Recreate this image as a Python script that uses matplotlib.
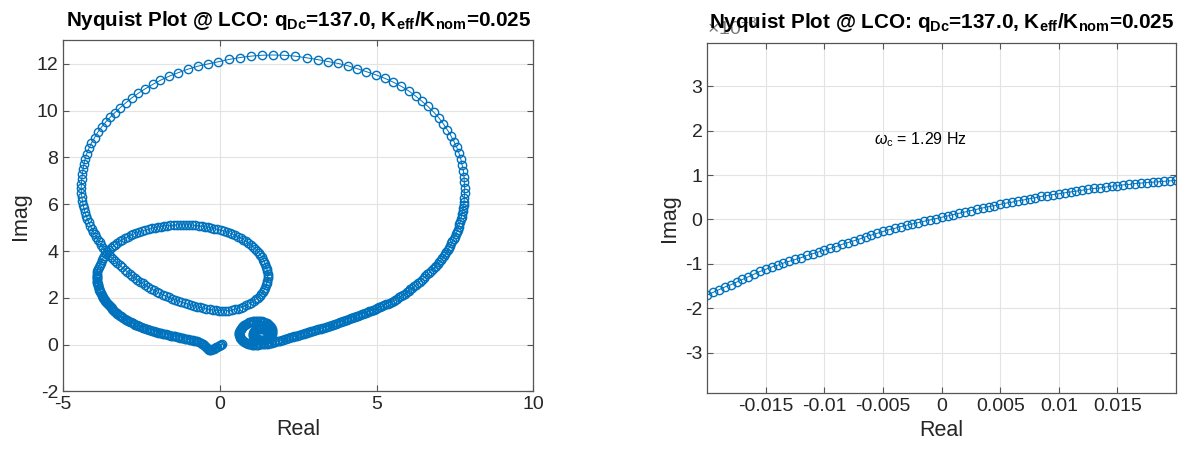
import numpy as np
import matplotlib
matplotlib.use('Agg')
import matplotlib.pyplot as plt
from matplotlib.ticker import FuncFormatter

plt.rcParams['font.family'] = ['Liberation Sans', 'DejaVu Sans']
plt.rcParams['mathtext.fontset'] = 'custom'
plt.rcParams['mathtext.rm'] = 'Liberation Sans'
plt.rcParams['mathtext.it'] = 'Liberation Sans:italic'
plt.rcParams['mathtext.bf'] = 'Liberation Sans:bold'
plt.rcParams['axes.unicode_minus'] = False

# --- full Nyquist curve, in path order ---
tail = [(0.08, 0.03), (0.04, 0.00), (0.00, -0.03), (-0.04, -0.06), (-0.08, -0.09), (-0.12, -0.12),
        (-0.16, -0.15), (-0.20, -0.18), (-0.24, -0.20), (-0.28, -0.22), (-0.32, -0.23), (-0.36, -0.22),
        (-0.39, -0.19), (-0.42, -0.15), (-0.45, -0.11), (-0.48, -0.07), (-0.51, -0.03), (-0.54, 0.01),
        (-0.58, 0.05), (-0.62, 0.09), (-0.67, 0.12)]

lower_band = [(-0.72, 0.14), (-0.77, 0.15), (-0.82, 0.17), (-0.87, 0.18), (-0.92, 0.20), (-0.97, 0.21),
              (-1.02, 0.23), (-1.07, 0.24), (-1.12, 0.26), (-1.17, 0.27), (-1.22, 0.29), (-1.27, 0.30),
              (-1.32, 0.32), (-1.37, 0.33), (-1.42, 0.35), (-1.47, 0.36), (-1.52, 0.38), (-1.57, 0.39),
              (-1.62, 0.41), (-1.67, 0.42), (-1.72, 0.44), (-1.77, 0.45), (-1.82, 0.47), (-1.87, 0.49),
              (-1.92, 0.50), (-1.97, 0.52), (-2.02, 0.54), (-2.07, 0.56), (-2.12, 0.58), (-2.17, 0.60),
              (-2.22, 0.62), (-2.27, 0.64), (-2.32, 0.66), (-2.37, 0.68), (-2.42, 0.71), (-2.47, 0.73),
              (-2.52, 0.76), (-2.57, 0.78), (-2.61, 0.81), (-2.66, 0.83), (-2.70, 0.86), (-2.75, 0.89),
              (-2.79, 0.92), (-2.84, 0.95), (-2.88, 0.98), (-2.92, 1.01), (-2.96, 1.04), (-3.00, 1.07),
              (-3.04, 1.10), (-3.08, 1.14), (-3.12, 1.17), (-3.16, 1.21), (-3.20, 1.24), (-3.23, 1.28),
              (-3.27, 1.32), (-3.30, 1.36), (-3.34, 1.40), (-3.37, 1.44), (-3.40, 1.48), (-3.43, 1.52),
              (-3.46, 1.56), (-3.49, 1.60), (-3.52, 1.64), (-3.55, 1.68), (-3.58, 1.73), (-3.61, 1.77),
              (-3.63, 1.81), (-3.66, 1.86), (-3.68, 1.90), (-3.70, 1.95), (-3.72, 2.00), (-3.74, 2.04),
              (-3.76, 2.09), (-3.78, 2.14), (-3.80, 2.19), (-3.82, 2.24), (-3.83, 2.29), (-3.85, 2.34),
              (-3.86, 2.39), (-3.87, 2.44), (-3.88, 2.49), (-3.89, 2.54), (-3.90, 2.59), (-3.91, 2.64),
              (-3.92, 2.69), (-3.92, 2.74), (-3.93, 2.79), (-3.93, 2.84), (-3.93, 2.89), (-3.93, 2.94),
              (-3.93, 2.99)]

inner_loop = [(-3.92, 3.06), (-3.91, 3.15), (-3.89, 3.24), (-3.87, 3.33), (-3.84, 3.42), (-3.81, 3.51),
              (-3.78, 3.60), (-3.74, 3.69), (-3.70, 3.78), (-3.65, 3.87), (-3.60, 3.96), (-3.54, 4.04),
              (-3.48, 4.12), (-3.41, 4.20), (-3.34, 4.28), (-3.27, 4.35), (-3.19, 4.42), (-3.11, 4.49),
              (-3.03, 4.55), (-2.94, 4.61), (-2.85, 4.67), (-2.76, 4.72), (-2.67, 4.77), (-2.58, 4.82),
              (-2.48, 4.86), (-2.38, 4.90), (-2.28, 4.94), (-2.18, 4.97), (-2.08, 5.00), (-1.98, 5.03),
              (-1.88, 5.05), (-1.78, 5.07), (-1.68, 5.09), (-1.58, 5.10), (-1.48, 5.11), (-1.38, 5.12),
              (-1.28, 5.12), (-1.18, 5.12), (-1.08, 5.12), (-0.98, 5.12), (-0.88, 5.11), (-0.78, 5.10),
              (-0.68, 5.08), (-0.58, 5.06), (-0.48, 5.04), (-0.38, 5.02), (-0.28, 4.99), (-0.18, 4.96),
              (-0.08, 4.93), (0.02, 4.90), (0.12, 4.86), (0.22, 4.82), (0.31, 4.77), (0.40, 4.72),
              (0.49, 4.67), (0.58, 4.61), (0.67, 4.55), (0.75, 4.49), (0.83, 4.42), (0.91, 4.35),
              (0.98, 4.27), (1.05, 4.19), (1.12, 4.11), (1.18, 4.02), (1.24, 3.93), (1.29, 3.84),
              (1.34, 3.74), (1.38, 3.64), (1.42, 3.54), (1.45, 3.44), (1.48, 3.34), (1.50, 3.24),
              (1.51, 3.14), (1.52, 3.04), (1.52, 2.94), (1.52, 2.84), (1.51, 2.74), (1.49, 2.64),
              (1.47, 2.54), (1.44, 2.44), (1.41, 2.35), (1.37, 2.26), (1.32, 2.17), (1.27, 2.09),
              (1.21, 2.01), (1.15, 1.94), (1.08, 1.87), (1.00, 1.80), (0.92, 1.74), (0.84, 1.68),
              (0.75, 1.63), (0.66, 1.58), (0.57, 1.54), (0.47, 1.51), (0.37, 1.48), (0.27, 1.46),
              (0.17, 1.45), (0.07, 1.45), (-0.03, 1.46), (-0.13, 1.47), (-0.23, 1.49), (-0.33, 1.51),
              (-0.43, 1.53), (-0.53, 1.56), (-0.63, 1.59), (-0.73, 1.62), (-0.83, 1.66), (-0.93, 1.70),
              (-1.03, 1.74), (-1.13, 1.78), (-1.23, 1.82), (-1.33, 1.87), (-1.43, 1.92), (-1.53, 1.97),
              (-1.63, 2.02), (-1.73, 2.08), (-1.83, 2.14), (-1.93, 2.20), (-2.02, 2.26), (-2.11, 2.33),
              (-2.20, 2.40), (-2.29, 2.47), (-2.38, 2.54), (-2.47, 2.62), (-2.56, 2.70), (-2.64, 2.78),
              (-2.72, 2.86), (-2.80, 2.94), (-2.88, 3.03), (-2.96, 3.12), (-3.04, 3.21), (-3.12, 3.30),
              (-3.20, 3.39), (-3.27, 3.48), (-3.34, 3.57), (-3.41, 3.66), (-3.48, 3.75), (-3.55, 3.85),
              (-3.61, 3.95), (-3.67, 4.05), (-3.73, 4.15), (-3.79, 4.26), (-3.84, 4.37), (-3.89, 4.48),
              (-3.94, 4.59), (-3.99, 4.71), (-4.04, 4.83), (-4.09, 4.96), (-4.14, 5.09), (-4.19, 5.23),
              (-4.23, 5.37), (-4.27, 5.52), (-4.31, 5.67), (-4.34, 5.83), (-4.37, 5.99), (-4.39, 6.16),
              (-4.41, 6.33), (-4.42, 6.50), (-4.43, 6.68)]

big_arc = [(-4.42, 6.88), (-4.41, 7.08), (-4.39, 7.29), (-4.37, 7.50), (-4.34, 7.72), (-4.30, 7.94),
           (-4.25, 8.16), (-4.18, 8.39), (-4.10, 8.62), (-4.00, 8.85), (-3.90, 9.08), (-3.78, 9.30),
           (-3.65, 9.51), (-3.51, 9.71), (-3.35, 9.92), (-3.19, 10.12), (-3.01, 10.33), (-2.82, 10.54),
           (-2.60, 10.75), (-2.38, 10.94), (-2.15, 11.12), (-1.90, 11.30), (-1.63, 11.47), (-1.34, 11.62),
           (-1.03, 11.77), (-0.71, 11.90), (-0.38, 12.00), (-0.05, 12.09), (0.29, 12.19), (0.63, 12.27),
           (0.98, 12.33), (1.33, 12.37), (1.68, 12.38), (2.04, 12.37), (2.41, 12.33), (2.77, 12.26),
           (3.13, 12.18), (3.45, 12.10), (3.77, 12.02), (4.08, 11.92), (4.37, 11.80), (4.67, 11.67),
           (4.98, 11.53), (5.27, 11.38), (5.53, 11.22), (5.79, 11.04), (6.03, 10.84), (6.25, 10.62),
           (6.45, 10.40), (6.64, 10.18), (6.82, 9.94), (6.99, 9.69), (7.13, 9.44), (7.26, 9.18),
           (7.37, 8.93), (7.47, 8.68), (7.56, 8.43), (7.63, 8.18), (7.69, 7.93), (7.73, 7.68),
           (7.77, 7.43), (7.79, 7.18)]

right_side = [(7.80, 6.94), (7.81, 6.71), (7.81, 6.49), (7.80, 6.28), (7.79, 6.08), (7.78, 5.95),
              (7.77, 5.83), (7.75, 5.71), (7.73, 5.59), (7.71, 5.47), (7.69, 5.36), (7.67, 5.25),
              (7.64, 5.14), (7.62, 5.03), (7.59, 4.92), (7.56, 4.82), (7.53, 4.72), (7.49, 4.62),
              (7.46, 4.52), (7.42, 4.42), (7.39, 4.33), (7.35, 4.23), (7.31, 4.14), (7.27, 4.05),
              (7.23, 3.96), (7.19, 3.87), (7.14, 3.79), (7.10, 3.70), (7.05, 3.62), (7.00, 3.54),
              (6.95, 3.46), (6.90, 3.38), (6.85, 3.30), (6.79, 3.22), (6.74, 3.15), (6.68, 3.07),
              (6.62, 3.00), (6.56, 2.92), (6.50, 2.85), (6.44, 2.77), (6.38, 2.70), (6.32, 2.63),
              (6.26, 2.56), (6.20, 2.49), (6.14, 2.43), (6.08, 2.36), (6.02, 2.30), (5.96, 2.24),
              (5.90, 2.18), (5.84, 2.12), (5.78, 2.07), (5.72, 2.02), (5.66, 1.97), (5.60, 1.92),
              (5.54, 1.88), (5.48, 1.84), (5.42, 1.80), (5.36, 1.76), (5.30, 1.72), (5.24, 1.69),
              (5.18, 1.65), (5.12, 1.62), (5.07, 1.59),
              (5.02, 1.56), (4.97, 1.53), (4.92, 1.50), (4.87, 1.48), (4.82, 1.45), (4.77, 1.42),
              (4.72, 1.40), (4.67, 1.37), (4.62, 1.34), (4.57, 1.32), (4.52, 1.29), (4.47, 1.27),
              (4.42, 1.24), (4.37, 1.22), (4.32, 1.19), (4.27, 1.17), (4.22, 1.14), (4.17, 1.12),
              (4.12, 1.09), (4.07, 1.07), (4.02, 1.05), (3.97, 1.02), (3.92, 1.00), (3.87, 0.97),
              (3.82, 0.95), (3.77, 0.92), (3.72, 0.90), (3.67, 0.88), (3.62, 0.85), (3.57, 0.83),
              (3.52, 0.81), (3.47, 0.79), (3.42, 0.77), (3.37, 0.75), (3.32, 0.73), (3.27, 0.71),
              (3.22, 0.69), (3.17, 0.67), (3.12, 0.65), (3.07, 0.63), (3.02, 0.61), (2.97, 0.59),
              (2.92, 0.57), (2.87, 0.55), (2.82, 0.53), (2.77, 0.51), (2.72, 0.49), (2.67, 0.47),
              (2.62, 0.45), (2.57, 0.43), (2.52, 0.41), (2.47, 0.39), (2.42, 0.37), (2.37, 0.35),
              (2.32, 0.33), (2.27, 0.31), (2.22, 0.29), (2.17, 0.27), (2.12, 0.25), (2.07, 0.23),
              (2.02, 0.21), (1.97, 0.19), (1.92, 0.17), (1.87, 0.16), (1.82, 0.14), (1.77, 0.12),
              (1.72, 0.11), (1.67, 0.09)]

small_loop = [(1.62, 0.075), (1.57, 0.06), (1.52, 0.05), (1.47, 0.04), (1.42, 0.03), (1.37, 0.02),
              (1.32, 0.015), (1.27, 0.01), (1.22, 0.005), (1.17, 0.00), (1.12, 0.00), (1.07, 0.00),
              (1.02, 0.005), (0.98, 0.01), (0.94, 0.025), (0.90, 0.04), (0.86, 0.06), (0.83, 0.08),
              (0.79, 0.10), (0.76, 0.13), (0.73, 0.16), (0.71, 0.19), (0.69, 0.22), (0.67, 0.26),
              (0.65, 0.30), (0.64, 0.33), (0.63, 0.37), (0.62, 0.41), (0.62, 0.45), (0.62, 0.49),
              (0.62, 0.53), (0.63, 0.57), (0.64, 0.61), (0.66, 0.65), (0.68, 0.69), (0.70, 0.73),
              (0.72, 0.77), (0.75, 0.80), (0.78, 0.83), (0.81, 0.86), (0.84, 0.89), (0.88, 0.92),
              (0.92, 0.95), (0.96, 0.97), (1.00, 0.99), (1.05, 1.00), (1.09, 1.01), (1.14, 1.02),
              (1.19, 1.03), (1.24, 1.03), (1.29, 1.02), (1.33, 1.01), (1.38, 0.99), (1.42, 0.97),
              (1.46, 0.94), (1.50, 0.91), (1.54, 0.88), (1.57, 0.84), (1.60, 0.80), (1.62, 0.76),
              (1.64, 0.72), (1.66, 0.67), (1.67, 0.63), (1.67, 0.58), (1.67, 0.54), (1.66, 0.49),
              (1.65, 0.45), (1.63, 0.40), (1.61, 0.36), (1.58, 0.32), (1.55, 0.29), (1.51, 0.26),
              (1.47, 0.24), (1.43, 0.22), (1.39, 0.21), (1.34, 0.20), (1.30, 0.20), (1.25, 0.21),
              (1.21, 0.23), (1.17, 0.25), (1.14, 0.28), (1.11, 0.31), (1.09, 0.35), (1.07, 0.39),
              (1.06, 0.43), (1.06, 0.47), (1.07, 0.51), (1.08, 0.55), (1.10, 0.59), (1.13, 0.62),
              (1.16, 0.65), (1.20, 0.67), (1.24, 0.68), (1.28, 0.69), (1.32, 0.69), (1.36, 0.68),
              (1.40, 0.66), (1.44, 0.64), (1.47, 0.61), (1.50, 0.57), (1.52, 0.53), (1.53, 0.49),
              (1.53, 0.45), (1.52, 0.41)]

# --- zoom near the origin (right panel), Real and Imag in units of 1e-3 ---
zoom_re = [-20.0, -19.5, -19.0, -18.5, -18.0, -17.5, -17.0, -16.5, -16.0, -15.5, -15.0, -14.5,
           -14.0, -13.5, -13.0, -12.5, -12.0, -11.5, -11.0, -10.5, -10.0, -9.5, -9.0, -8.5,
           -8.0, -7.5, -7.0, -6.5, -6.0, -5.5, -5.0, -4.5, -4.0, -3.5, -3.0, -2.5,
           -2.0, -1.5, -1.0, -0.5, 0.0, 0.5, 1.0, 1.5, 2.0, 2.5, 3.0, 3.5,
           4.0, 4.5, 5.0, 5.5, 6.0, 6.5, 7.0, 7.5, 8.0, 8.5, 9.0, 9.5,
           10.0, 10.5, 11.0, 11.5, 12.0, 12.5, 13.0, 13.5, 14.0, 14.5, 15.0, 15.5,
           16.0, 16.5, 17.0, 17.5, 18.0, 18.5, 19.0, 19.5, 20.0]
zoom_im = [-1.70, -1.64, -1.58, -1.52, -1.47, -1.41, -1.35, -1.29, -1.23, -1.17, -1.12, -1.07,
           -1.03, -0.98, -0.94, -0.90, -0.86, -0.81, -0.77, -0.73, -0.69, -0.65, -0.61, -0.56,
           -0.52, -0.48, -0.44, -0.39, -0.35, -0.31, -0.27, -0.23, -0.20, -0.16, -0.13, -0.10,
           -0.07, -0.04, -0.01, 0.02, 0.05, 0.08, 0.11, 0.14, 0.17, 0.20, 0.23, 0.26,
           0.29, 0.31, 0.34, 0.37, 0.39, 0.42, 0.44, 0.47, 0.49, 0.52, 0.54, 0.56,
           0.58, 0.60, 0.62, 0.64, 0.66, 0.68, 0.70, 0.71, 0.73, 0.75, 0.76, 0.78,
           0.79, 0.81, 0.82, 0.83, 0.84, 0.85, 0.86, 0.87, 0.88]

title = r'Nyquist Plot @ LCO: q$_\mathbf{Dc}$=137.0, K$_\mathbf{eff}$/K$_\mathbf{nom}$=0.025'
wc_label = r'$\omega_\mathrm{c}$ = 1.29 Hz'

blue = '#0072BD'
axcol = '#262626'
style = dict(color=blue, lw=0.7, marker='o', ms=6.0, mfc='none', mec=blue, mew=1.0)


def styleAxes(ax):
    ax.grid(True, color='#e3e3e3', lw=0.8)
    ax.set_axisbelow(True)
    for s in ax.spines.values():
        s.set_color('#555555')
        s.set_linewidth(0.9)
    ax.tick_params(direction='in', top=True, right=True, length=4, width=0.8,
                   color='#555555', labelcolor=axcol, labelsize=14)
    ax.set_xlabel('Real', fontsize=15.5, color=axcol)
    ax.set_ylabel('Imag', fontsize=15.5, color=axcol)
    ax.set_title(title, fontsize=14.9, fontweight='bold', color='k', y=1.0, pad=10.5, zorder=5)


fig = plt.figure(figsize=(11.85, 4.55), dpi=100)

ax1 = fig.add_axes([0.0534, 0.1396, 0.3966, 0.7714])
path = tail + lower_band + inner_loop + big_arc + right_side + small_loop
re = [p[0] for p in path]
im = [p[1] for p in path]
ax1.plot(re, im, **style)
ax1.set_xlim(-5, 10)
ax1.set_ylim(-2, 13)
ax1.set_xticks([-5, 0, 5, 10])
ax1.set_yticks(np.arange(-2, 13, 2))
styleAxes(ax1)

ax2 = fig.add_axes([0.5969, 0.1369, 0.3955, 0.7692])
ax2.plot(np.array(zoom_re) * 1e-3, np.array(zoom_im) * 1e-3, **style)
ax2.set_xlim(-0.02, 0.02)
ax2.set_ylim(-3.9e-3, 3.98e-3)
ax2.set_xticks([-0.015, -0.01, -0.005, 0, 0.005, 0.01, 0.015])
ax2.set_xticklabels(['-0.015', '-0.01', '-0.005', '0', '0.005', '0.01', '0.015'])
ax2.set_yticks(np.arange(-3, 4) * 1e-3)
ax2.yaxis.set_major_formatter(FuncFormatter(lambda v, p: '%g' % round(v * 1e3, 6)))
styleAxes(ax2)
ax2.text(0.0, 1.012, r'$\times$10$^{-3}$', transform=ax2.transAxes, ha='left', va='bottom',
         fontsize=14, color='#777777', zorder=1)
ax2.text(-0.0058, 1.8e-3, wc_label, fontsize=11.5, color='k', va='center', ha='left')

fig.savefig('out.png', dpi=100)
